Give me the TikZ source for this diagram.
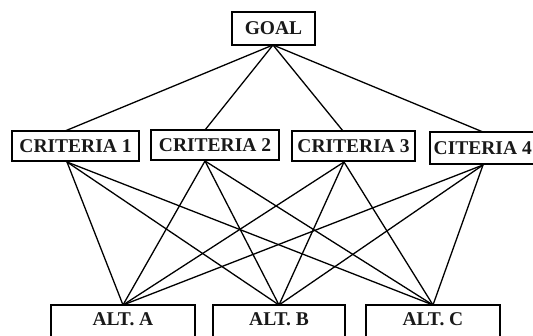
\documentclass[tikz,border=0pt]{standalone}
\usepackage{fontspec}
\setmainfont{Liberation Serif}
\begin{document}
\begin{tikzpicture}[x=1pt,y=-1pt,
  box/.style={draw, line width=1.5pt, inner sep=0pt, font=\fontsize{19.5}{19.5}\selectfont\bfseries, text=black!90},
  lbl/.style={inner sep=0pt, font=\fontsize{19.5}{19.5}\selectfont\bfseries, text=black!90},
  link/.style={line width=1.3pt}]
\useasboundingbox (0,0) rectangle (533,336);
\clip (0,0) rectangle (533,336);
% goal
\node[box, minimum width=83pt, minimum height=33pt] (goal) at (273.5,28.5) {GOAL};
% criteria
\node[box, minimum width=127pt, minimum height=30pt] (c1) at (75.5,146) {CRITERIA 1};
\node[box, minimum width=128pt, minimum height=30pt] (c2) at (215,145) {CRITERIA 2};
\node[box, minimum width=123pt, minimum height=30pt] (c3) at (353.5,146) {CRITERIA 3};
\node[box, minimum width=112pt, minimum height=32pt] (c4) at (486,148) {};
\node[lbl, anchor=east] (c4l) at (532,148) {CITERIA 4};
% alternatives
\node[box, minimum width=144pt, minimum height=44pt] (a) at (123,327) {};
\node[box, minimum width=132pt, minimum height=44pt] (b) at (279,327) {};
\node[box, minimum width=134pt, minimum height=44pt] (c) at (433,327) {};
\node[lbl] (al) at (123,319.5) {ALT. A};
\node[lbl] (bl) at (279,319.5) {ALT. B};
\node[lbl] (cl) at (433,319.5) {ALT. C};
% connection points
\coordinate (g) at (273,45);
\coordinate (c1t) at (65,131);
\coordinate (c2t) at (205,130);
\coordinate (c3t) at (343,131);
\coordinate (c4t) at (483,132);
\coordinate (c1b) at (67,162);
\coordinate (c2b) at (205,161);
\coordinate (c3b) at (344,162);
\coordinate (c4b) at (483,165);
\coordinate (at) at (123,305);
\coordinate (bt) at (279,305);
\coordinate (ct) at (433,305);
% links
\foreach \t in {c1t,c2t,c3t,c4t} \draw[link] (g) -- (\t);
\foreach \s in {c1b,c2b,c3b,c4b}
  \foreach \t in {at,bt,ct} \draw[link] (\s) -- (\t);
\end{tikzpicture}
\end{document}
